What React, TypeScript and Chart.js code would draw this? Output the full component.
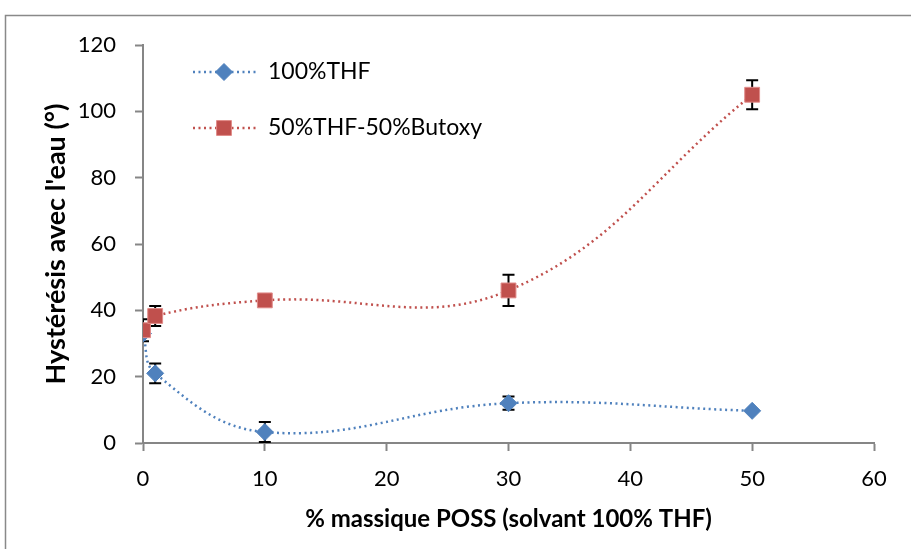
import React, { useEffect, useRef } from "react";
import { Chart, registerables } from "chart.js";

Chart.register(...registerables);

// ---- data ----
const xValues = [0, 1, 10, 30, 50];
const thfValues = [33, 21, 3.3, 12, 9.7];
const thfErrors = [0, 3, 3, 2, 0];
const butoxyValues = [34, 38.3, 43, 46, 105];
const butoxyErrors = [3.3, 3, 0, 4.7, 4.4];
const seriesLabels = ["100%THF", "50%THF-50%Butoxy"];
const xTitle = "% massique POSS (solvant 100% THF)";
const yTitle = "Hystérésis avec l'eau (°)";

const BLUE = "#4F81BD";
const RED = "#C0504D";
const AXIS = "#868686";
const FONT = "Lato, 'Open Sans', sans-serif";

const toPoints = (ys: number[]) => xValues.map((x, i) => ({ x, y: ys[i] }));

const framePlugin = {
  id: "frame",
  beforeDraw(chart: any) {
    const { ctx, width, height } = chart;
    ctx.save();
    ctx.fillStyle = "#fff";
    ctx.fillRect(0, 0, width, height);
    ctx.strokeStyle = "#898989";
    ctx.lineWidth = 1.5;
    ctx.strokeRect(5.5, 15.5, width + 20, height + 20);
    ctx.restore();
  },
};

const errorBarPlugin = {
  id: "errorBars",
  beforeDatasetsDraw(chart: any) {
    const { ctx, chartArea, scales } = chart;
    const ys = scales.y;
    ctx.save();
    ctx.beginPath();
    ctx.rect(chartArea.left, chartArea.top, chartArea.right - chartArea.left, chartArea.bottom - chartArea.top);
    ctx.clip();
    ctx.strokeStyle = "#000";
    ctx.lineWidth = 2;
    chart.data.datasets.forEach((ds: any, di: number) => {
      const errs: number[] = ds.errors;
      if (!errs) return;
      const meta = chart.getDatasetMeta(di);
      meta.data.forEach((pt: any, i: number) => {
        const e = errs[i];
        if (!e) return;
        const v = ds.data[i].y;
        const yt = ys.getPixelForValue(v + e);
        const yb = ys.getPixelForValue(v - e);
        const x = pt.x;
        ctx.beginPath();
        ctx.moveTo(x, yt);
        ctx.lineTo(x, yb);
        ctx.moveTo(x - 6, yt);
        ctx.lineTo(x + 6, yt);
        ctx.moveTo(x - 6, yb);
        ctx.lineTo(x + 6, yb);
        ctx.stroke();
      });
    });
    ctx.restore();
  },
};

const legendPlugin = {
  id: "insideLegend",
  afterDraw(chart: any) {
    const { ctx, chartArea } = chart;
    const x0 = chartArea.left + 50;
    const entries = [
      { label: seriesLabels[0], color: BLUE, border: BLUE, style: "rectRot", r: 8.5, y: chartArea.top + 27 },
      { label: seriesLabels[1], color: RED, border: "#E08A88", style: "rect", r: 10.5, y: chartArea.top + 83 },
    ];
    ctx.save();
    entries.forEach((e) => {
      ctx.strokeStyle = e.color;
      ctx.lineWidth = 2.5;
      ctx.setLineDash([2, 3.5]);
      ctx.beginPath();
      ctx.moveTo(x0, e.y);
      ctx.lineTo(x0 + 63, e.y);
      ctx.stroke();
      ctx.setLineDash([]);
      ctx.fillStyle = e.color;
      ctx.strokeStyle = e.border;
      ctx.lineWidth = 1;
      const cx = x0 + 31;
      ctx.beginPath();
      if (e.style === "rect") {
        const s = e.r * Math.SQRT1_2;
        ctx.rect(cx - s, e.y - s, 2 * s, 2 * s);
      } else {
        ctx.moveTo(cx, e.y - e.r);
        ctx.lineTo(cx + e.r, e.y);
        ctx.lineTo(cx, e.y + e.r);
        ctx.lineTo(cx - e.r, e.y);
        ctx.closePath();
      }
      ctx.fill();
      ctx.stroke();
      ctx.fillStyle = "#000";
      ctx.font = `23px ${FONT}`;
      ctx.textBaseline = "middle";
      ctx.textAlign = "left";
      ctx.fillText(e.label, x0 + 75, e.y);
    });
    ctx.restore();
  },
};

export default function App() {
  const canvasRef = useRef<HTMLCanvasElement | null>(null);

  useEffect(() => {
    const canvas = canvasRef.current;
    if (!canvas) return;
    const chart = new Chart(canvas, {
      type: "scatter",
      data: {
        datasets: [
          {
            label: seriesLabels[0],
            data: toPoints(thfValues),
            errors: thfErrors,
            showLine: true,
            tension: 0.4,
            borderColor: BLUE,
            borderWidth: 2.5,
            borderDash: [2, 3.5],
            backgroundColor: BLUE,
            pointStyle: "rectRot",
            pointRadius: 8.5,
            pointBorderColor: BLUE,
            pointBorderWidth: 1,
            pointBackgroundColor: BLUE,
            order: 1,
          } as any,
          {
            label: seriesLabels[1],
            data: toPoints(butoxyValues),
            errors: butoxyErrors,
            showLine: true,
            tension: 0.4,
            borderColor: RED,
            borderWidth: 2.5,
            borderDash: [2, 3.5],
            backgroundColor: RED,
            pointStyle: "rect",
            pointRadius: 10.5,
            pointBorderColor: "#E08A88",
            pointBorderWidth: 1,
            pointBackgroundColor: RED,
            order: 0,
          } as any,
        ],
      },
      options: {
        responsive: false,
        animation: false,
        layout: { padding: { left: 0, top: 45, right: 37, bottom: 0 } },
        plugins: {
          legend: { display: false },
          tooltip: { enabled: false },
        },
        scales: {
          x: {
            type: "linear",
            min: 0,
            max: 60,
            afterFit: (s: any) => {
              s.height = 106;
            },
            ticks: {
              stepSize: 10,
              color: "#000",
              font: { family: FONT, size: 22 },
              padding: 15,
              maxRotation: 0,
            },
            grid: {
              drawOnChartArea: false,
              drawTicks: true,
              tickLength: 8,
              tickColor: AXIS,
              tickWidth: 2,
            },
            border: { color: AXIS, width: 2 },
            title: {
              display: true,
              text: xTitle,
              color: "#000",
              font: { family: FONT, size: 24, weight: "bold" },
              padding: { top: 0, bottom: 15 },
            },
          },
          y: {
            type: "linear",
            min: 0,
            max: 120,
            afterFit: (s: any) => {
              s.width = 143;
            },
            ticks: {
              stepSize: 20,
              color: "#000",
              font: { family: FONT, size: 22 },
              padding: 19,
            },
            grid: {
              drawOnChartArea: false,
              drawTicks: true,
              tickLength: 8,
              tickColor: AXIS,
              tickWidth: 2,
            },
            border: { color: AXIS, width: 2 },
            title: {
              display: true,
              text: yTitle,
              color: "#000",
              font: { family: FONT, size: 27, weight: "bold" },
              padding: { top: 40, bottom: 0 },
            },
          },
        },
      } as any,
      plugins: [framePlugin, errorBarPlugin, legendPlugin],
    });
    return () => chart.destroy();
  }, []);

  return (
    <div style={{ position: "fixed", left: 0, top: 0, width: 911, height: 549 }}>
      <canvas ref={canvasRef} width={911} height={549} />
    </div>
  );
}
